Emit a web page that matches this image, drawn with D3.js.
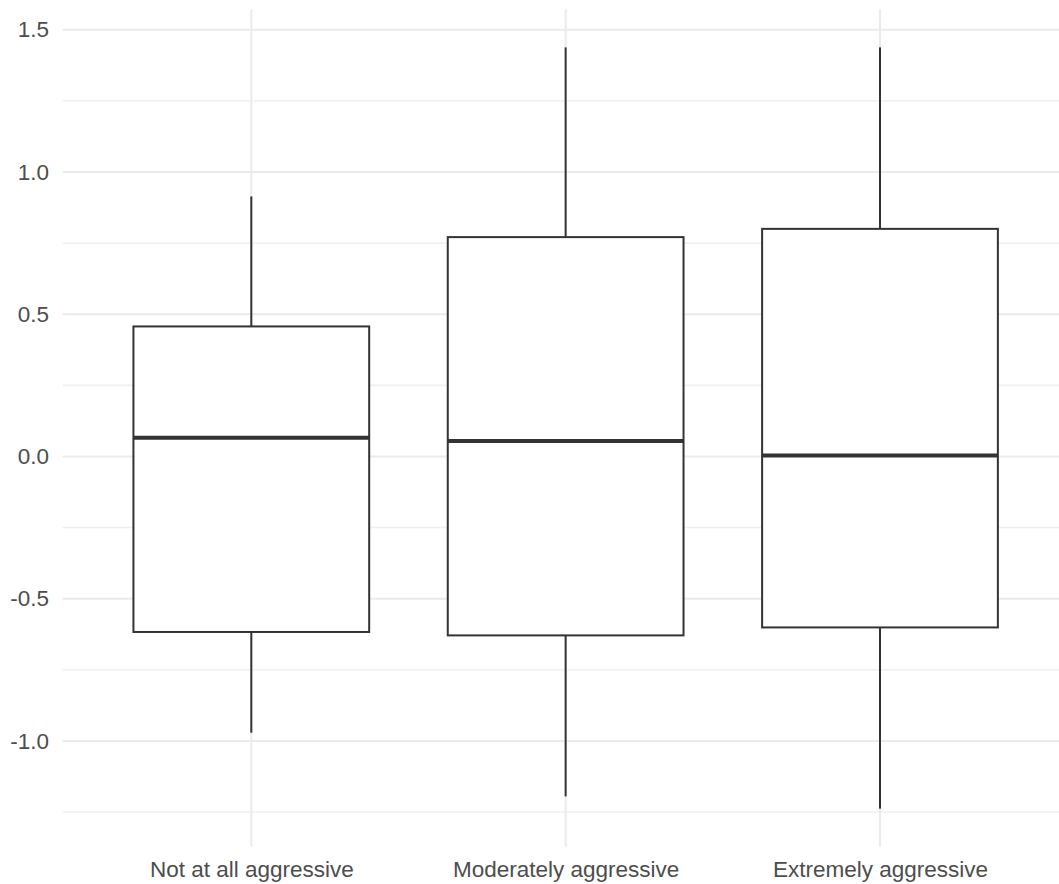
<!DOCTYPE html>
<html>
<head>
<meta charset="utf-8">
<script src="https://cdn.jsdelivr.net/npm/d3@7"></script>
<style>
  html, body { margin: 0; padding: 0; background: #ffffff; }
  svg { display: block; }
</style>
</head>
<body>
<svg id="chart" width="1059" height="884"></svg>
<script>
// Box plot summaries per aggression level
const categories = ["Not at all aggressive", "Moderately aggressive", "Extremely aggressive"];
const whiskerLow  = [-0.971, -1.195, -1.238];
const q1          = [-0.617, -0.629, -0.601];
const median      = [0.066, 0.054, 0.003];
const q3          = [0.457, 0.771, 0.800];
const whiskerHigh = [0.914, 1.438, 1.438];

const yTicks = [-1.0, -0.5, 0.0, 0.5, 1.0, 1.5];
const yTickLabels = ["-1.0", "-0.5", "0.0", "0.5", "1.0", "1.5"];
const yMinor = [-1.25, -0.75, -0.25, 0.25, 0.75, 1.25];

const W = 1059, H = 884;
const panel = { left: 62.7, right: 1068.6, top: 9.3, bottom: 846.7 };
const font = "'Liberation Sans', Arial, Helvetica, sans-serif";
const fontSize = "22.5px";

const svg = d3.select("#chart");

// y scale with 5% padding around the data range
const lo = d3.min(whiskerLow), hi = d3.max(whiskerHigh);
const pad = (hi - lo) * 0.05;
const y = d3.scaleLinear().domain([lo - pad, hi + pad]).range([panel.bottom, panel.top]);

// discrete x positions, 0.6 step padding on both sides
const x = d3.scalePoint().domain(categories).range([panel.left, panel.right]).padding(0.6);
const step = x.step();
const boxW = step * 0.75;

const grid = svg.append("g");
// minor horizontal grid
grid.selectAll("line.minor").data(yMinor).join("line")
  .attr("class", "minor")
  .attr("x1", panel.left).attr("x2", panel.right)
  .attr("y1", d => y(d)).attr("y2", d => y(d))
  .attr("stroke", "#f0f0f0").attr("stroke-width", 1.6);
// major horizontal grid
grid.selectAll("line.major").data(yTicks).join("line")
  .attr("class", "major")
  .attr("x1", panel.left).attr("x2", panel.right)
  .attr("y1", d => y(d)).attr("y2", d => y(d))
  .attr("stroke", "#ebebeb").attr("stroke-width", 2);
// vertical grid at categories
grid.selectAll("line.vx").data(categories).join("line")
  .attr("class", "vx")
  .attr("x1", d => x(d)).attr("x2", d => x(d))
  .attr("y1", panel.top).attr("y2", panel.bottom)
  .attr("stroke", "#ebebeb").attr("stroke-width", 2);

// y axis labels
const yAxis = d3.axisLeft(y).tickValues(yTicks)
  .tickFormat((d, i) => yTickLabels[i]).tickSize(0).tickPadding(13.7);
const gy = svg.append("g").attr("transform", `translate(${panel.left},0)`).call(yAxis);
gy.select(".domain").remove();
gy.selectAll("text")
  .attr("fill", "#4d4d4d")
  .style("font-family", font)
  .style("font-size", fontSize);

// x axis labels
const xAxis = d3.axisBottom(x).tickSize(0).tickPadding(0);
const gx = svg.append("g").attr("transform", `translate(0,${panel.bottom})`).call(xAxis);
gx.select(".domain").remove();
gx.selectAll("text")
  .attr("y", 30)
  .attr("dy", 0)
  .attr("fill", "#4d4d4d")
  .style("font-family", font)
  .style("font-size", fontSize);

// boxes
const data = categories.map((c, i) => ({
  c, lo: whiskerLow[i], q1: q1[i], med: median[i], q3: q3[i], hi: whiskerHigh[i]
}));

const boxes = svg.append("g").selectAll("g").data(data).join("g");
const stroke = "#333333";

boxes.append("line")
  .attr("x1", d => x(d.c)).attr("x2", d => x(d.c))
  .attr("y1", d => y(d.q3)).attr("y2", d => y(d.hi))
  .attr("stroke", stroke).attr("stroke-width", 2);
boxes.append("line")
  .attr("x1", d => x(d.c)).attr("x2", d => x(d.c))
  .attr("y1", d => y(d.q1)).attr("y2", d => y(d.lo))
  .attr("stroke", stroke).attr("stroke-width", 2);
boxes.append("rect")
  .attr("x", d => x(d.c) - boxW / 2)
  .attr("width", boxW)
  .attr("y", d => y(d.q3))
  .attr("height", d => y(d.q1) - y(d.q3))
  .attr("fill", "#ffffff")
  .attr("stroke", stroke).attr("stroke-width", 2);
boxes.append("line")
  .attr("x1", d => x(d.c) - boxW / 2).attr("x2", d => x(d.c) + boxW / 2)
  .attr("y1", d => y(d.med)).attr("y2", d => y(d.med))
  .attr("stroke", stroke).attr("stroke-width", 4);
</script>
</body>
</html>
